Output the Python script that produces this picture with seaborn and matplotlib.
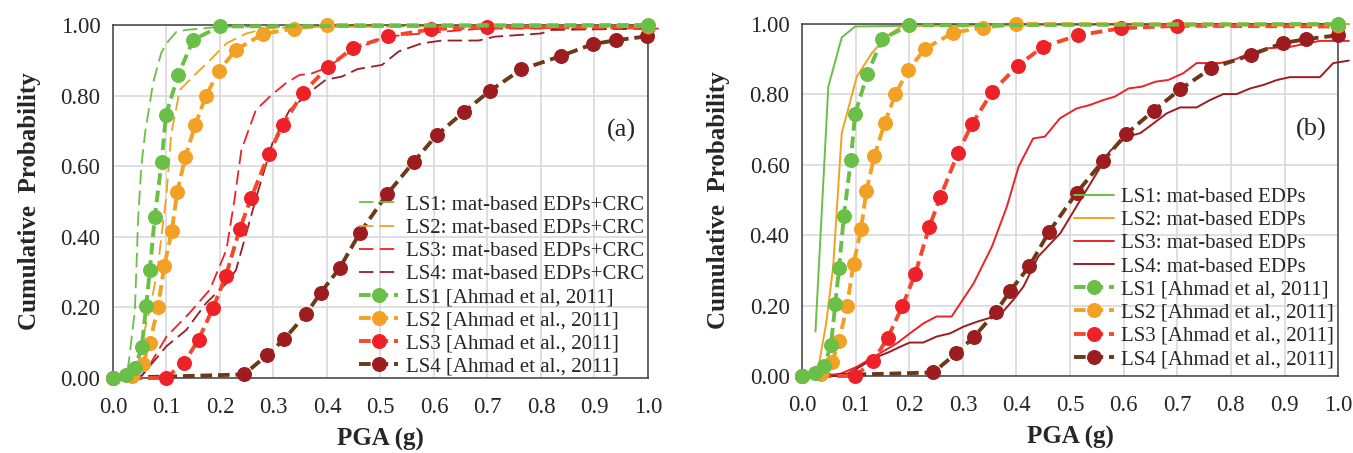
import numpy as np
import pandas as pd
import seaborn as sns
import matplotlib.pyplot as plt
from matplotlib.ticker import FormatStrFormatter, MultipleLocator

# ---- data (PGA in g, cumulative probability) ----
# Ahmad et al. (2011) curves, same in both panels
ls1_ah_x = [0.0, 0.025, 0.041, 0.054, 0.062, 0.069, 0.078, 0.091, 0.099, 0.122, 0.15, 0.2, 1.0]
ls1_ah_y = [0.0, 0.009, 0.027, 0.089, 0.204, 0.307, 0.455, 0.613, 0.745, 0.859, 0.958, 0.996, 1.0]
ls2_ah_x = [0.0, 0.036, 0.056, 0.069, 0.084, 0.096, 0.11, 0.12, 0.135, 0.154, 0.174, 0.198, 0.23, 0.281, 0.338, 0.4, 1.0]
ls2_ah_y = [0.0, 0.005, 0.04, 0.1, 0.2, 0.318, 0.417, 0.526, 0.625, 0.718, 0.8, 0.87, 0.93, 0.975, 0.99, 1.0, 0.998]
ls3_ah_x = [0.0, 0.099, 0.133, 0.16, 0.187, 0.211, 0.237, 0.258, 0.291, 0.317, 0.355, 0.402, 0.449, 0.515, 0.595, 0.7, 1.0]
ls3_ah_y = [0.0, 0.0, 0.043, 0.109, 0.198, 0.29, 0.422, 0.509, 0.634, 0.716, 0.808, 0.881, 0.935, 0.968, 0.988, 0.995, 0.993]
ls4_ah_x = [0.0, 0.245, 0.288, 0.32, 0.361, 0.388, 0.424, 0.461, 0.512, 0.562, 0.605, 0.656, 0.705, 0.763, 0.837, 0.897, 0.941, 0.999]
ls4_ah_y = [0.0, 0.01, 0.065, 0.11, 0.181, 0.241, 0.312, 0.41, 0.52, 0.612, 0.688, 0.754, 0.814, 0.874, 0.912, 0.946, 0.957, 0.968]

# panel (a): mat-based EDPs + CRC
ls1_crc_x = [0.0, 0.025, 0.03, 0.041, 0.047, 0.053, 0.06, 0.075, 0.09, 0.1, 0.118, 0.137, 0.2, 1.0]
ls1_crc_y = [0.0, 0.0, 0.05, 0.193, 0.45, 0.6, 0.694, 0.836, 0.92, 0.948, 0.98, 0.986, 0.995, 0.998]
ls2_crc_x = [0.0, 0.035, 0.045, 0.056, 0.07, 0.084, 0.092, 0.1, 0.109, 0.125, 0.149, 0.181, 0.212, 0.249, 0.286, 0.35, 1.0]
ls2_crc_y = [0.0, 0.0, 0.04, 0.117, 0.2, 0.315, 0.42, 0.52, 0.693, 0.816, 0.853, 0.9, 0.948, 0.976, 0.99, 0.995, 0.995]
ls3_crc_x = [0.0, 0.05, 0.063, 0.1, 0.143, 0.181, 0.212, 0.227, 0.24, 0.267, 0.295, 0.323, 0.348, 0.372, 0.398, 0.45, 0.51, 0.585, 0.69, 1.02]
ls3_crc_y = [0.0, 0.0, 0.023, 0.117, 0.184, 0.25, 0.363, 0.504, 0.646, 0.759, 0.8, 0.835, 0.858, 0.863, 0.878, 0.93, 0.967, 0.977, 0.99, 0.99]
ls4_crc_x = [0.0, 0.05, 0.1, 0.137, 0.174, 0.212, 0.23, 0.27, 0.298, 0.33, 0.373, 0.398, 0.428, 0.457, 0.503, 0.534, 0.577, 0.615, 0.683, 0.714, 0.8, 0.82, 1.0]
ls4_crc_y = [0.0, 0.0, 0.09, 0.136, 0.212, 0.268, 0.306, 0.523, 0.665, 0.759, 0.816, 0.845, 0.854, 0.875, 0.887, 0.925, 0.948, 0.956, 0.956, 0.967, 0.976, 0.986, 0.99]

# panel (b): mat-based EDPs
ls1_edp_x = [0.025, 0.049, 0.074, 0.099, 0.2, 1.02]
ls1_edp_y = [0.126, 0.822, 0.962, 0.993, 0.995, 1.0]
ls2_edp_x = [0.025, 0.03, 0.045, 0.058, 0.066, 0.074, 0.102, 0.13, 0.158, 0.185, 0.25, 1.02]
ls2_edp_y = [0.0, 0.02, 0.15, 0.31, 0.5, 0.69, 0.85, 0.917, 0.965, 0.993, 0.996, 1.0]
ls3_edp_x = [0.03, 0.071, 0.102, 0.14, 0.177, 0.201, 0.227, 0.251, 0.279, 0.32, 0.354, 0.382, 0.404, 0.431, 0.453,
             0.481, 0.512, 0.537, 0.562, 0.584, 0.609, 0.634, 0.659, 0.683, 0.711, 0.736, 0.78, 0.805, 0.836, 0.867,
             0.91, 0.942, 0.966, 1.02]
ls3_edp_y = [0.0, 0.006, 0.026, 0.06, 0.093, 0.121, 0.15, 0.169, 0.169, 0.263, 0.367, 0.481, 0.595, 0.675, 0.68,
             0.732, 0.76, 0.77, 0.784, 0.794, 0.817, 0.822, 0.836, 0.841, 0.86, 0.889, 0.889, 0.898, 0.917, 0.931,
             0.935, 0.945, 0.952, 0.952]
ls4_edp_x = [0.03, 0.077, 0.108, 0.133, 0.164, 0.183, 0.201, 0.226, 0.251, 0.276, 0.301, 0.326, 0.348, 0.369, 0.394,
             0.413, 0.441, 0.482, 0.514, 0.546, 0.575, 0.606, 0.631, 0.655, 0.68, 0.705, 0.736, 0.761, 0.786, 0.811,
             0.836, 0.861, 0.886, 0.91, 0.966, 0.991, 1.02]
ls4_edp_y = [0.0, 0.0, 0.026, 0.05, 0.069, 0.083, 0.095, 0.095, 0.112, 0.121, 0.14, 0.154, 0.164, 0.173, 0.216,
             0.254, 0.34, 0.406, 0.487, 0.567, 0.64, 0.68, 0.69, 0.717, 0.746, 0.763, 0.763, 0.784, 0.801, 0.801,
             0.817, 0.827, 0.841, 0.849, 0.849, 0.889, 0.896]

ah_labels = ["LS1 [Ahmad et al, 2011]", "LS2 [Ahmad et al., 2011]",
             "LS3 [Ahmad et al., 2011]", "LS4 [Ahmad et al., 2011]"]

GREEN = "#6abf47"
ORANGE = "#f2a124"
RED = "#ee2128"
REDLINE = "#f4472b"
DARKRED = "#9c1c20"
BROWN = "#6b3a16"

sns.set_style("white")
plt.rcParams['font.family'] = ['Liberation Serif', 'DejaVu Serif']

fig = plt.figure(figsize=(13.53, 4.53), dpi=100)
ax1 = fig.add_axes([0.0835, 0.1656, 0.3954, 0.7792])
ax2 = fig.add_axes([0.5928, 0.1700, 0.3962, 0.7770])


def draw(ax, x, y, **kw):
    df = pd.DataFrame({"x": x, "y": y})
    sns.lineplot(data=df, x="x", y="y", ax=ax, estimator=None, sort=False,
                 clip_on=False, **kw)
    return ax.get_lines()[-1]


def ahmad(ax):
    # drawn LS4 -> LS1 so the upper curves sit on top
    specs = [(ls4_ah_x, ls4_ah_y, BROWN, DARKRED),
             (ls3_ah_x, ls3_ah_y, REDLINE, RED),
             (ls2_ah_x, ls2_ah_y, ORANGE, ORANGE),
             (ls1_ah_x, ls1_ah_y, GREEN, GREEN)]
    hs = []
    for x, y, lc, mc in specs:
        h = draw(ax, x, y, color=lc, lw=2.8, linestyle=(0, (3.0, 1.5)),
                 marker="o", markersize=10, markerfacecolor=mc,
                 markeredgecolor=mc, zorder=4)
        hs.append(h)
    return hs[::-1]


def style(ax, tag):
    ax.set_xlim(0, 1)
    ax.set_ylim(0, 1)
    ax.xaxis.set_major_locator(MultipleLocator(0.1))
    ax.yaxis.set_major_locator(MultipleLocator(0.2))
    ax.xaxis.set_major_formatter(FormatStrFormatter("%.1f"))
    ax.yaxis.set_major_formatter(FormatStrFormatter("%.2f"))
    ax.grid(True, color="#d9d9d9", lw=1.2)
    ax.set_axisbelow(True)
    for s in ax.spines.values():
        s.set_color("#404040")
        s.set_linewidth(1.1)
        s.set_visible(True)
    ax.tick_params(axis="both", length=0, labelsize=16.5, colors="#262626")
    ax.tick_params(axis="x", pad=14)
    ax.tick_params(axis="y", pad=9)
    ax.set_xlabel("PGA (g)", fontsize=18, fontweight="bold", labelpad=7)
    ax.set_ylabel("Cumulative  Probability", fontsize=18, fontweight="bold", labelpad=14)
    ax.text(0.95, 0.70, tag, transform=ax.transAxes, fontsize=19, ha="center", va="center")


leg_kw = dict(loc="lower right", frameon=False, fontsize=15, labelspacing=0.17,
              handlelength=1.9, handletextpad=0.35, borderaxespad=0, borderpad=0.2)

# ---- panel (a)
thin_dash = (0, (8, 3.5))
h1 = [draw(ax1, ls1_crc_x, ls1_crc_y, color=GREEN, lw=1.3, linestyle=thin_dash),
      draw(ax1, ls2_crc_x, ls2_crc_y, color=ORANGE, lw=1.3, linestyle=thin_dash),
      draw(ax1, ls3_crc_x, ls3_crc_y, color=RED, lw=1.3, linestyle=thin_dash),
      draw(ax1, ls4_crc_x, ls4_crc_y, color=DARKRED, lw=1.3, linestyle=thin_dash)]
h1 += ahmad(ax1)
lab1 = ["LS%d: mat-based EDPs+CRC" % i for i in range(1, 5)] + ah_labels
style(ax1, "(a)")
ax1.legend(h1, lab1, bbox_to_anchor=(1.0, -0.008), **leg_kw)

# ---- panel (b)
h2 = [draw(ax2, ls1_edp_x, ls1_edp_y, color=GREEN, lw=1.4),
      draw(ax2, ls2_edp_x, ls2_edp_y, color=ORANGE, lw=1.4),
      draw(ax2, ls3_edp_x, ls3_edp_y, color=RED, lw=1.4),
      draw(ax2, ls4_edp_x, ls4_edp_y, color=DARKRED, lw=1.4)]
h2 += ahmad(ax2)
lab2 = ["LS%d: mat-based EDPs" % i for i in range(1, 5)] + ah_labels
style(ax2, "(b)")
ax2.legend(h2, lab2, bbox_to_anchor=(1.0, 0.008), **leg_kw)

fig.savefig("out.png", dpi=100)
